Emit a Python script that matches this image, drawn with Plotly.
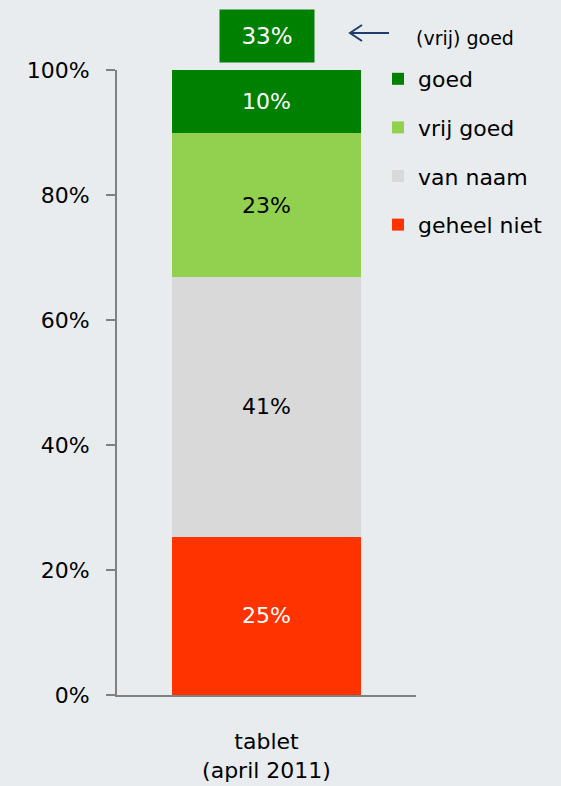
import plotly.graph_objects as go

category = ["tablet<br>(april 2011)"]
series_names = ["geheel niet", "van naam", "vrij goed", "goed"]
series_values = [25.3, 41.6, 23.0, 10.1]
series_labels = ["25%", "41%", "23%", "10%"]
series_colors = ["#FF3300", "#D9D9D9", "#92D050", "#008000"]
label_colors = ["white", "black", "black", "white"]
y_ticks = [0, 20, 40, 60, 80, 100]
y_tick_labels = ["0%", "20%", "40%", "60%", "80%", "100%"]
total_label = "33%"
note_text = "(vrij) goed"

FONT = "DejaVu Sans"
W, H = 561, 786
L, R, T, B = 117, 145, 70, 91
PW, PH = W - L - R, H - T - B

def px(x):
    return (x - L) / PW

def py(y):
    return (H - B - y) / PH

fig = go.Figure()
n = len(series_names)
for i, (name, val, lab, col, tcol) in enumerate(zip(series_names, series_values,
                                                    series_labels, series_colors,
                                                    label_colors)):
    fig.add_trace(go.Bar(
        x=category, y=[val], name=name, text=[lab],
        marker=dict(color=col, line=dict(width=0)),
        textposition="inside", insidetextanchor="middle", textangle=0,
        textfont=dict(family=FONT, size=22, color=tcol),
        width=0.63, legendgroup=name, legendrank=n - i,
    ))

fig.update_layout(
    width=W, height=H, barmode="stack",
    margin=dict(l=L, r=R, t=T, b=B, pad=0, autoexpand=False),
    paper_bgcolor="#E8ECEE", plot_bgcolor="#E8ECEE",
    font=dict(family=FONT, size=22, color="black"),
    showlegend=True,
    legend=dict(traceorder="grouped", tracegroupgap=17,
                x=px(378), xanchor="left", y=py(58), yanchor="top",
                font=dict(family=FONT, size=22, color="black"),
                bgcolor="rgba(0,0,0,0)", itemwidth=30),
    xaxis=dict(range=[-0.5, 0.5], showline=True, linecolor="#808080", linewidth=2,
               ticks="", showgrid=False, zeroline=False, automargin=False,
               tickfont=dict(family=FONT, size=22), ticklabelstandoff=26),
    yaxis=dict(range=[0, 100], tickvals=y_ticks, ticktext=y_tick_labels,
               showline=True, linecolor="#808080", linewidth=2, automargin=False,
               ticks="outside", ticklen=9, tickcolor="#808080", tickwidth=2,
               showgrid=False, zeroline=False, ticklabelstandoff=12,
               tickfont=dict(family=FONT, size=22)),
)

fig.add_annotation(x=0, xref="x", y=py(36), yref="paper", yanchor="middle",
                   text=total_label, showarrow=False, bgcolor="#008000", borderpad=0,
                   font=dict(family=FONT, size=23, color="white"),
                   width=94, height=52, valign="middle")
fig.add_annotation(x=px(414), xref="paper", y=py(38), yref="paper", text=note_text,
                   xanchor="left", yanchor="middle", showarrow=False,
                   font=dict(family=FONT, size=19, color="black"))
arrow = "M {x0},{y0} L {x1},{y0} M {hx},{hy1} L {x0},{y0} L {hx},{hy2}".format(
    x0=px(350), x1=px(389), y0=py(33), hx=px(362), hy1=py(25), hy2=py(41))
fig.add_shape(type="path", xref="paper", yref="paper", path=arrow,
              line=dict(color="#1F3D6E", width=2))

fig.write_html("out.html", config={"displayModeBar": False},
               post_script="document.body.style.margin='0';"
                           "document.body.style.overflow='hidden';")
